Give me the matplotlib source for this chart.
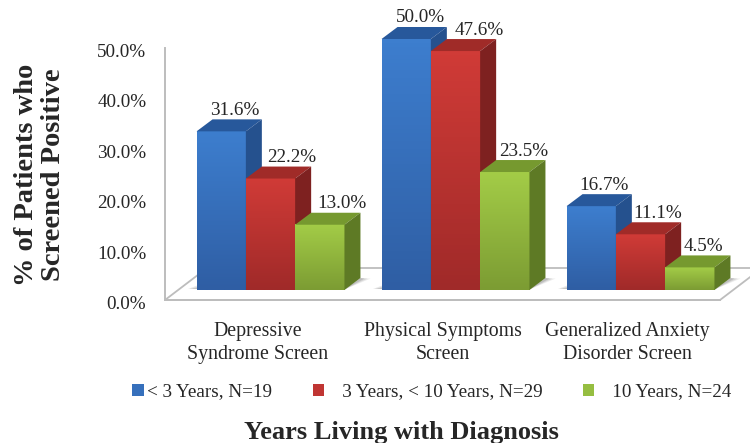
import numpy as np
import matplotlib
matplotlib.use("Agg")
import matplotlib.pyplot as plt
from matplotlib.patches import Patch, Polygon
from matplotlib.colors import LinearSegmentedColormap
from matplotlib.transforms import ScaledTranslation

plt.rcParams['font.family'] = ['Liberation Serif', 'DejaVu Serif']

categories = ['Depressive\nSyndrome Screen', 'Physical Symptoms\nScreen', 'Generalized Anxiety\nDisorder Screen']
series_names = ['< 3 Years, N=19', '   3 Years, < 10 Years, N=29', '   10 Years, N=24']
under3 = [31.6, 50.0, 16.7]
from3to10 = [22.2, 47.6, 11.1]
over10 = [13.0, 23.5, 4.5]
series = [under3, from3to10, over10]
y_ticks = [0, 10, 20, 30, 40, 50]

# horizontal nudges of the value labels, in pixels, per series then group
label_nudge = [[14, 14, 13], [21, 24, 17], [22, 19, 14]]

front_top = ['#3D7ECE', '#D03B37', '#A3CC47']
front_bottom = ['#2F5EA4', '#A02A29', '#7C9C33']
top_col = ['#27589B', '#A02B28', '#76992F']
side_col = ['#25518E', '#7E2120', '#5E7A25']
ink = '#262626'

W, H = 750, 443
fig = plt.figure(figsize=(W/100, H/100), dpi=100, facecolor='white')

# wall / floor axes (carries the ticks)
ax = fig.add_axes([165/W, (H-300)/H, 555/W, 252/H])
ax.set_xlim(-0.5, 2.5)
ax.set_ylim(0, 50)
ax.patch.set_alpha(0)
for s in ['top', 'right']:
    ax.spines[s].set_visible(False)
for s in ['left', 'bottom']:
    ax.spines[s].set_color('#BDBDBD')
    ax.spines[s].set_linewidth(1.4)
ax.set_yticks(y_ticks)
ax.set_yticklabels([f'{v:.1f}%' for v in y_ticks], fontsize=13.8, color=ink)
ax.set_xticks(range(3))
ax.set_xticklabels(categories, fontsize=14.3, color=ink, linespacing=1.25)
ax.tick_params(axis='both', length=0)
ax.tick_params(axis='x', pad=16)
ax.tick_params(axis='y', pad=13.5)
for lab in ax.get_yticklabels():
    lab.set_transform(lab.get_transform() + ScaledTranslation(0, -2.5/100, fig.dpi_scale_trans))

fdx, fdy = 42/185, 32/(252/50)
ax.add_patch(Polygon([(-0.5, 0), (2.5, 0), (2.5+fdx, fdy), (-0.5+fdx, fdy)], closed=True,
                     facecolor='white', edgecolor='#BDBDBD', lw=1.3, clip_on=False, zorder=1))

# bars axes, shifted onto the floor
bx = fig.add_axes([178/W, (H-290)/H, 555/W, 251/H])
bx.set_xlim(-0.5, 2.5)
bx.set_ylim(0, 50)
bx.patch.set_alpha(0)
bx.axis('off')

bw = 49.3/185
ddx, ddy = 16/185, 12/(251/50)
x = np.arange(3)
pxx, pxy = 1/185, 50/251

# soft floor shadows beside each group
for gi in x:
    xl = gi - 1.5*bw
    xr = gi + 1.5*bw
    for grow, a in [(1.0, 0.12), (0.7, 0.16), (0.4, 0.22)]:
        bx.add_patch(Polygon([(xl-9*grow*pxx, 0.1), (xl+4*pxx, 0.1), (xl+4*pxx, 6*grow*pxy)], closed=True,
                             facecolor='#444444', edgecolor='none', alpha=a, clip_on=False, zorder=2))
        bx.add_patch(Polygon([(xr, 0.1), (xr+ddx, ddy), (xr+ddx+10*grow*pxx, ddy*0.95)], closed=True,
                             facecolor='#666666', edgecolor='none', alpha=a, clip_on=False, zorder=2))

for i, vals in enumerate(series):
    offs = x + (i-1)*bw
    zz = 3 + i*10
    bars = bx.bar(offs, vals, width=bw, color=front_top[i], zorder=zz, clip_on=False)
    cmap = LinearSegmentedColormap.from_list('g', [front_top[i], front_bottom[i]])
    for g, (rect, v) in enumerate(zip(bars, vals)):
        x0 = rect.get_x()
        x1 = x0 + rect.get_width()
        bx.imshow(np.linspace(0, 1, 64).reshape(-1, 1), extent=(x0, x1, 0, v), aspect='auto',
                  cmap=cmap, vmin=0, vmax=1, zorder=zz+0.5, origin='upper')
        bx.add_patch(Polygon([(x0, v), (x1, v), (x1+ddx, v+ddy), (x0+ddx, v+ddy)], closed=True,
                             facecolor=top_col[i], edgecolor='none', clip_on=False, zorder=zz+0.5))
        bx.add_patch(Polygon([(x1, 0), (x1+ddx, ddy), (x1+ddx, v+ddy), (x1, v)], closed=True,
                             facecolor=side_col[i], edgecolor='none', clip_on=False, zorder=zz+0.5))
        bx.annotate(f'{v:.1f}%', xy=((x0+x1)/2, v), xytext=(label_nudge[i][g]*0.72, 16.5*0.72),
                    textcoords='offset points', ha='center', va='baseline', fontsize=13.8,
                    color=ink, zorder=60, annotation_clip=False)
bx.set_xlim(-0.5, 2.5)
bx.set_ylim(0, 50)

ax.set_ylabel('% of Patients who\nScreened Positive', fontsize=20.5, fontweight='bold', color=ink,
              linespacing=1.08, va='center')
ax.yaxis.set_label_coords((40-165)/555, (300-175)/252)
ax.set_xlabel('Years Living with Diagnosis', fontsize=19, fontweight='bold', color=ink, va='center')
ax.xaxis.set_label_coords((401-165)/555, (300-432)/252)

handles = [Patch(facecolor=c, edgecolor='none') for c in ['#3670BC', '#C03533', '#96BE41']]
fig.legend(handles, series_names, ncol=3, loc='center left', bbox_to_anchor=(132/W, 1-392/H),
           frameon=False, fontsize=13.8, handlelength=0.6, handleheight=0.6, handletextpad=0.2,
           columnspacing=2.1, labelcolor=ink, borderpad=0, borderaxespad=0)

fig.savefig('out.png', dpi=100, facecolor='white')
